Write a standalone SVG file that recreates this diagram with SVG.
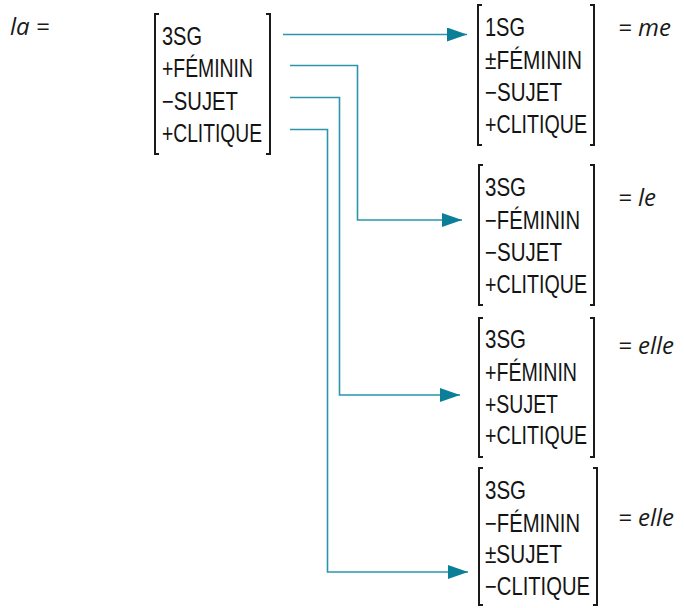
<svg xmlns="http://www.w3.org/2000/svg" width="684" height="608" viewBox="0 0 684 608">
<style>
.f{font-family:"Liberation Sans",Arial,sans-serif;font-size:25px;fill:#141414}
.lab{font-family:"Open Sans","DejaVu Sans",sans-serif;font-style:italic;font-size:24px;fill:#1a1a1a}
.br{fill:none;stroke:#1a1a1a;stroke-width:2}
.cn{fill:none;stroke:#2a95ab;stroke-width:1.6}
</style>
<defs>
<marker id="ah" markerUnits="userSpaceOnUse" markerWidth="20" markerHeight="14" refX="20" refY="7" orient="auto" viewBox="0 0 20 14">
<path d="M0,0 L20,7 L0,14 Z" fill="#0b7f98"/>
</marker>
</defs>
<rect width="684" height="608" fill="#fff"/>
<text class="lab" x="10" y="35">la =</text>
<g id="source">
<path class="br" d="M159,14 H155 V154 H159"/>
<path class="br" d="M266,14 H270 V154 H266"/>
<text class="f" x="162" y="45" textLength="40" lengthAdjust="spacingAndGlyphs">3SG</text>
<text class="f" x="162" y="77" textLength="91" lengthAdjust="spacingAndGlyphs">+FÉMININ</text>
<text class="f" x="162" y="110" textLength="76" lengthAdjust="spacingAndGlyphs">−SUJET</text>
<text class="f" x="162" y="142" textLength="100" lengthAdjust="spacingAndGlyphs">+CLITIQUE</text>
</g>
<g id="me">
<path class="br" d="M482,5 H478 V145 H482"/>
<path class="br" d="M590,5 H594 V145 H590"/>
<text class="f" x="485" y="36" textLength="40" lengthAdjust="spacingAndGlyphs">1SG</text>
<text class="f" x="485" y="69" textLength="97" lengthAdjust="spacingAndGlyphs">±FÉMININ</text>
<text class="f" x="485" y="101" textLength="77" lengthAdjust="spacingAndGlyphs">−SUJET</text>
<text class="f" x="485" y="133" textLength="102" lengthAdjust="spacingAndGlyphs">+CLITIQUE</text>
<text class="lab" x="618" y="36">= me</text>
</g>
<g id="le">
<path class="br" d="M483,165 H479 V305 H483"/>
<path class="br" d="M590,165 H594 V305 H590"/>
<text class="f" x="485" y="196" textLength="41" lengthAdjust="spacingAndGlyphs">3SG</text>
<text class="f" x="485" y="229" textLength="95" lengthAdjust="spacingAndGlyphs">−FÉMININ</text>
<text class="f" x="485" y="261" textLength="77" lengthAdjust="spacingAndGlyphs">−SUJET</text>
<text class="f" x="485" y="293" textLength="102" lengthAdjust="spacingAndGlyphs">+CLITIQUE</text>
<text class="lab" x="618" y="206">= le</text>
</g>
<g id="elle1">
<path class="br" d="M483,318 H479 V457 H483"/>
<path class="br" d="M590,318 H594 V457 H590"/>
<text class="f" x="485" y="348" textLength="41" lengthAdjust="spacingAndGlyphs">3SG</text>
<text class="f" x="485" y="381" textLength="92" lengthAdjust="spacingAndGlyphs">+FÉMININ</text>
<text class="f" x="485" y="413" textLength="73" lengthAdjust="spacingAndGlyphs">+SUJET</text>
<text class="f" x="485" y="444" textLength="102" lengthAdjust="spacingAndGlyphs">+CLITIQUE</text>
<text class="lab" x="618" y="354">= elle</text>
</g>
<g id="elle2">
<path class="br" d="M483,468 H479 V605 H483"/>
<path class="br" d="M593,468 H597 V605 H593"/>
<text class="f" x="485" y="499" textLength="41" lengthAdjust="spacingAndGlyphs">3SG</text>
<text class="f" x="485" y="532" textLength="95" lengthAdjust="spacingAndGlyphs">−FÉMININ</text>
<text class="f" x="485" y="563" textLength="77" lengthAdjust="spacingAndGlyphs">±SUJET</text>
<text class="f" x="485" y="595" textLength="105" lengthAdjust="spacingAndGlyphs">−CLITIQUE</text>
<text class="lab" x="618" y="526">= elle</text>
</g>
<g id="connectors">
<path class="cn" d="M283,34.5 H467" marker-end="url(#ah)"/>
<path class="cn" d="M290,65.5 H357.5 V220 H462" marker-end="url(#ah)"/>
<path class="cn" d="M290,97.5 H339.5 V395 H460" marker-end="url(#ah)"/>
<path class="cn" d="M290,129.5 H327.5 V572 H468" marker-end="url(#ah)"/>
</g>
</svg>
